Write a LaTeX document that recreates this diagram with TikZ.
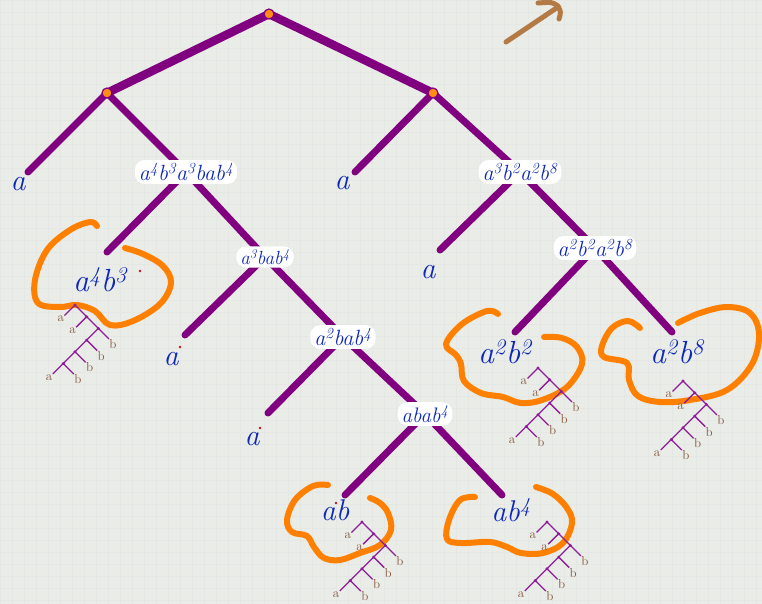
\documentclass[tikz,border=0pt]{standalone}
\definecolor{purp}{RGB}{128,0,128}
\definecolor{thinpurp}{RGB}{140,30,150}
\definecolor{inkblue}{RGB}{15,40,185}
\definecolor{loopor}{RGB}{255,128,0}
\definecolor{dotor}{RGB}{255,140,20}
\definecolor{brownlab}{RGB}{130,85,60}
\definecolor{arrowbrown}{RGB}{180,122,70}
\definecolor{bgcol}{RGB}{234,236,232}
\definecolor{gridcol}{RGB}{228,231,227}
\definecolor{reddot}{RGB}{190,20,20}
\newcommand\xp[1]{\textsuperscript{#1}}
\tikzset{
  comb/.pic={
    \coordinate (-r) at (0,0);
    \coordinate (-n2) at (11.7,11.7);
    \coordinate (-n3) at (23.4,23.4);
    \coordinate (-n4) at (11.7,35.1);
    \coordinate (-n5) at (0,46.8);
    \coordinate (-n6) at (-11.7,58.5);
    \coordinate (-a1e) at (-10.5,10.5);
    \coordinate (-a2e) at (1.2,22.2);
    \coordinate (-b1e) at (33.9,33.9);
    \coordinate (-b2e) at (22.2,45.6);
    \coordinate (-b3e) at (10.5,57.3);
    \coordinate (-a3e) at (-22.2,69);
    \coordinate (-b4e) at (-1.2,69);
    \draw[combedge] (-r) -- (-a1e);
    \draw[combedge] (-r) -- (-n2);
    \draw[combedge] (-n2) -- (-a2e);
    \draw[combedge] (-n2) -- (-n3);
    \draw[combedge] (-n3) -- (-b1e);
    \draw[combedge] (-n3) -- (-n4);
    \draw[combedge] (-n4) -- (-b2e);
    \draw[combedge] (-n4) -- (-n5);
    \draw[combedge] (-n5) -- (-b3e);
    \draw[combedge] (-n5) -- (-n6);
    \draw[combedge] (-n6) -- (-a3e);
    \draw[combedge] (-n6) -- (-b4e);
    \foreach \q in {r,n2,n3,n4,n5,n6} {\fill[thinpurp] (-\q) circle (1.6);}
    \node[comblab, anchor=north east] (-la1) at (-a1e) {a};
    \node[comblab, anchor=north east] (-la2) at (-a2e) {a};
    \node[comblab, anchor=north east] (-la3) at (-a3e) {a};
    \node[comblab, anchor=north west] (-lb1) at (-b1e) {b};
    \node[comblab, anchor=north west] (-lb2) at (-b2e) {b};
    \node[comblab, anchor=north west] (-lb3) at (-b3e) {b};
    \node[comblab, anchor=north west] (-lb4) at (-b4e) {b};
  },
  combedge/.style={draw=thinpurp, line width=1.3pt},
  comblab/.style={text=brownlab, inner sep=0.3pt, font=\fontsize{13}{13}\selectfont},
  edge/.style={draw=purp, line width=7pt, line cap=round},
  topedge/.style={draw=purp, line width=8.5pt, line cap=round},
  inlabel/.style={fill=white, rounded corners=10pt, inner xsep=4pt, inner ysep=3pt, text=inkblue, font=\fontsize{22}{22}\selectfont\itshape},
  leaflabel/.style={text=inkblue, inner sep=0pt, font=\fontsize{32}{32}\selectfont\itshape},
  singlea/.style={text=inkblue, inner sep=0pt, font=\fontsize{30}{30}\selectfont\itshape},
  dotnode/.style={circle, fill=dotor, draw=purp, line width=1.2pt, minimum size=10pt, inner sep=0pt},
  loop/.style={draw=loopor, line width=6pt, line cap=round, line join=round},
  reddotst/.style={fill=reddot},
}
\begin{document}
\begin{tikzpicture}[x=1pt,y=-1pt]
\useasboundingbox (0,0) rectangle (762,604);
\fill[bgcol] (0,0) rectangle (762,604);
\foreach \gx in {0,12,...,762} {\draw[gridcol, line width=0.5pt] (\gx,0) -- (\gx,604);}
\foreach \gy in {0,12,...,604} {\draw[gridcol, line width=0.5pt] (0,\gy) -- (762,\gy);}

% tree coordinates
\coordinate (root) at (269,14);
\coordinate (L) at (107,93);
\coordinate (R) at (433,93);
\coordinate (LLe) at (28,172);
\coordinate (n1) at (186,172);
\coordinate (n1Le) at (107,252);
\coordinate (n2) at (265,257);
\coordinate (n2Le) at (185,335);
\coordinate (n3) at (343,337);
\coordinate (n3Le) at (268,413);
\coordinate (n4) at (425,414);
\coordinate (n4Le) at (345,495);
\coordinate (n4Re) at (502,495);
\coordinate (RLe) at (355,172);
\coordinate (m1) at (520,172);
\coordinate (m1Le) at (440,250);
\coordinate (m2) at (595,248);
\coordinate (m2Le) at (515,332);
\coordinate (m2Re) at (672,332);

% edges
\draw[topedge] (root) -- (L);
\draw[topedge] (root) -- (R);
\draw[edge] (L) -- (LLe);
\draw[edge] (L) -- (n1);
\draw[edge] (n1) -- (n1Le);
\draw[edge] (n1) -- (n2);
\draw[edge] (n2) -- (n2Le);
\draw[edge] (n2) -- (n3);
\draw[edge] (n3) -- (n3Le);
\draw[edge] (n3) -- (n4);
\draw[edge] (n4) -- (n4Le);
\draw[edge] (n4) -- (n4Re);
\draw[edge] (R) -- (RLe);
\draw[edge] (R) -- (m1);
\draw[edge] (m1) -- (m1Le);
\draw[edge] (m1) -- (m2);
\draw[edge] (m2) -- (m2Le);
\draw[edge] (m2) -- (m2Re);

% orange dots
\node[dotnode] (rootdot) at (root) {};
\node[dotnode] (Ldot) at (L) {};
\node[dotnode] (Rdot) at (R) {};

% internal labels
\node[inlabel] (n1lab) at (n1) {a\xp{4}b\xp{3}a\xp{3}bab\xp{4}};
\node[inlabel, font=\fontsize{19}{19}\selectfont\itshape] (n2lab) at (n2) {a\xp{3}bab\xp{4}};
\node[inlabel] (n3lab) at (n3) {a\xp{2}bab\xp{4}};
\node[inlabel, font=\fontsize{21}{21}\selectfont\itshape] (n4lab) at (n4) {abab\xp{4}};
\node[inlabel] (m1lab) at (m1) {a\xp{3}b\xp{2}a\xp{2}b\xp{8}};
\node[inlabel] (m2lab) at (m2) {a\xp{2}b\xp{2}a\xp{2}b\xp{8}};

% single leaves
\node[singlea] (la1) at (18,184) {a};
\node[singlea] (la2) at (342,183) {a};
\node[singlea] (la3) at (428,272) {a};
\node[singlea] (la4) at (171,359) {a};
\node[singlea] (la5) at (252,439) {a};

% leaf labels
\node[leaflabel] (t1lab) at (100,280) {a\xp{4}b\xp{3}};
\node[leaflabel] (t2lab) at (505,352) {a\xp{2}b\xp{2}};
\node[leaflabel] (t3lab) at (677,352) {a\xp{2}b\xp{8}};
\node[leaflabel, font=\fontsize{30}{30}\selectfont\itshape] (t4lab) at (335,510) {ab};
\node[leaflabel, font=\fontsize{30}{30}\selectfont\itshape] (t5lab) at (511,510) {ab\xp{4}};

% red specks
\fill[reddotst] (140,271) circle (1.3);
\fill[reddotst] (180,347) circle (1.3);
\fill[reddotst] (260,428) circle (1.3);
\fill[reddotst] (336,503) circle (1.3);

% orange loops
\draw[loop] plot[smooth, tension=0.6] coordinates {(97,226) (90,222) (70,230) (47,250) (35,280) (38,303) (60,307) (77,305) (95,311) (110,325) (133,321) (160,304) (171,283) (163,266) (143,254) (125,248)};
\draw[loop] plot[smooth, tension=0.6] coordinates {(498,314) (487,311) (462,324) (446,344) (456,355) (461,364) (464,381) (481,393) (503,397) (521,403) (542,400) (567,387) (582,364) (577,347) (562,338) (544,337)};
\draw[loop] plot[smooth, tension=0.6] coordinates {(640,328) (628,321) (612,328) (602,346) (604,357) (627,363) (629,380) (638,396) (660,402) (690,400) (727,390) (752,364) (759,334) (750,313) (727,307) (700,313) (678,323)};
\draw[loop] plot[smooth, tension=0.6] coordinates {(328,485) (313,486) (295,500) (287,520) (292,532) (307,536) (314,547) (324,558) (340,560) (360,553) (380,545) (391,530) (388,513) (380,503) (370,498)};
\draw[loop] plot[smooth, tension=0.6] coordinates {(475,497) (460,500) (449,520) (447,539) (461,543) (490,542) (507,547) (521,553) (543,553) (563,543) (572,523) (567,508) (553,494) (536,487)};

% small comb trees
\pic (t1) at (75,305) {comb};
\pic (t2) at (538,368) {comb};
\pic (t3) at (683,381) {comb};
\pic (t4) at (362,522) {comb};
\pic (t5) at (547,522) {comb};

% brown arrow top right
\coordinate (arrtail) at (506,42);
\coordinate (arrtip) at (558,7);
\draw[arrowbrown, line width=5pt, line cap=round] (arrtail) -- (arrtip);
\draw[arrowbrown, line width=5pt, line cap=round, line join=round] (538,3) .. controls (552,2) .. (558,6) .. controls (561,12) .. (559,19);
\end{tikzpicture}
\end{document}
